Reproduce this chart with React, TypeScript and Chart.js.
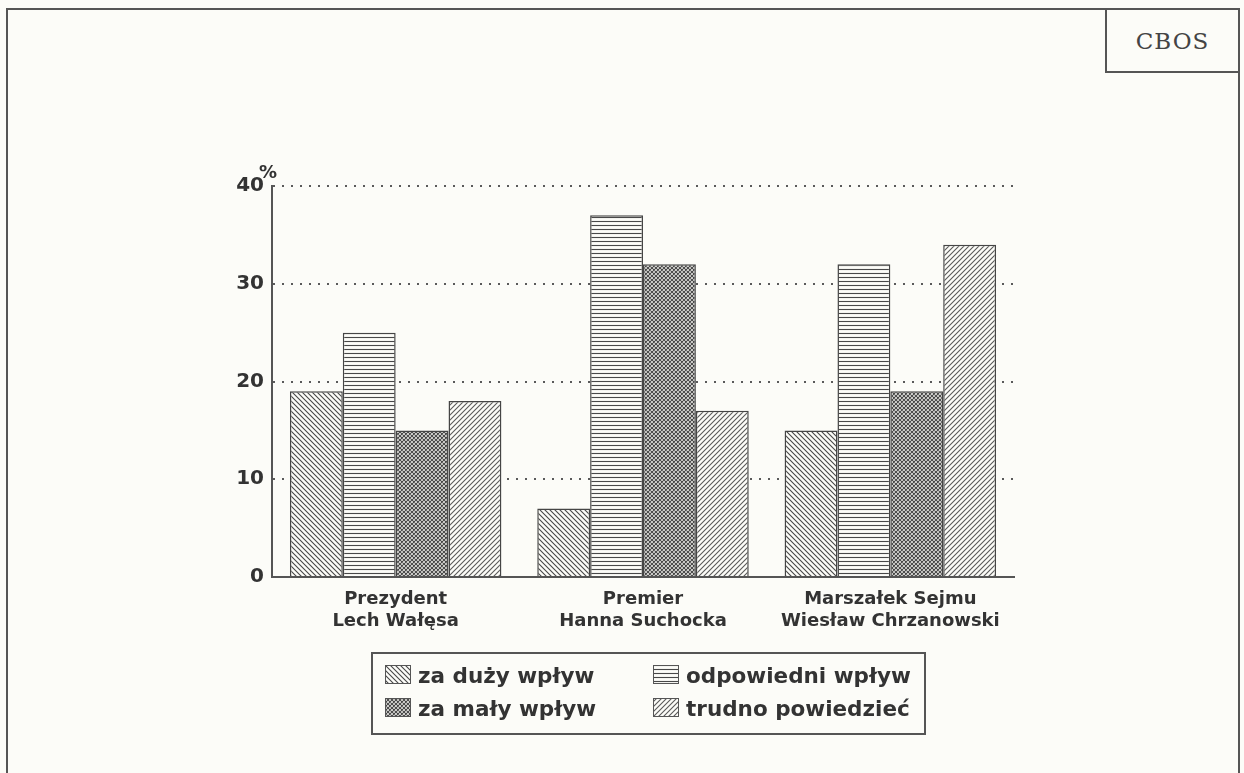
import React, { useEffect, useRef } from "react";
import { Chart, registerables } from "chart.js";

Chart.register(...registerables);

// ---- data ----
const categories: string[][] = [
  ["Prezydent", "Lech Wałęsa"],
  ["Premier", "Hanna Suchocka"],
  ["Marszałek Sejmu", "Wiesław Chrzanowski"],
];
const seriesNames = ["za duży wpływ", "odpowiedni wpływ", "za mały wpływ", "trudno powiedzieć"];
const zaDuzyWplyw = [19, 7, 15];
const odpowiedniWplyw = [25, 37, 32];
const zaMalyWplyw = [15, 32, 19];
const trudnoPowiedziec = [18, 17, 34];
const yTickValues = [0, 10, 20, 30, 40];
const unitLabel = "%";
const sourceLabel = "CBOS";

const BG = "#fcfcf8";
const INK = "#454545";
const TEXT = "#333";

function makePattern(kind: string): CanvasPattern {
  const s = kind === "horiz" ? 4 : kind === "cross" ? 4 : 5;
  const c = document.createElement("canvas");
  c.width = s;
  c.height = s;
  const g = c.getContext("2d")!;
  g.fillStyle = BG;
  g.fillRect(0, 0, s, s);
  g.strokeStyle = kind === "fwd" ? "#5a5a5a" : "#484848";
  g.lineWidth = kind === "cross" ? 1.2 : 1.1;
  g.beginPath();
  if (kind === "back" || kind === "cross") {
    g.moveTo(-1, -1); g.lineTo(s + 1, s + 1);
    g.moveTo(-1, s - 1); g.lineTo(1, s + 1);
    g.moveTo(s - 1, -1); g.lineTo(s + 1, 1);
  }
  if (kind === "fwd" || kind === "cross") {
    g.moveTo(-1, s + 1); g.lineTo(s + 1, -1);
    g.moveTo(-1, 1); g.lineTo(1, -1);
    g.moveTo(s - 1, s + 1); g.lineTo(s + 1, s - 1);
  }
  if (kind === "horiz") {
    g.moveTo(0, 1.5); g.lineTo(s, 1.5);
  }
  g.stroke();
  return g.createPattern(c, "repeat")!;
}

const boxLegendPlugin = {
  id: "boxLegend",
  afterDraw(chart: any, _args: any, o: any) {
    const ctx = chart.ctx as CanvasRenderingContext2D;
    ctx.save();
    ctx.lineWidth = 2;
    ctx.strokeStyle = "#555";
    ctx.strokeRect(o.box[0], o.box[1], o.box[2], o.box[3]);
    ctx.font = `bold ${o.fontSize}px "DejaVu Sans"`;
    ctx.textAlign = "left";
    ctx.textBaseline = "alphabetic";
    chart.data.datasets.forEach((ds: any, i: number) => {
      const col = i % 2;
      const row = Math.floor(i / 2);
      const x = o.colX[col];
      const y = o.rowY[row];
      ctx.fillStyle = ds.backgroundColor;
      ctx.fillRect(x, y, o.swatch[0], o.swatch[1]);
      ctx.lineWidth = 1;
      ctx.strokeStyle = "#555";
      ctx.strokeRect(x + 0.5, y + 0.5, o.swatch[0] - 1, o.swatch[1] - 1);
      ctx.fillStyle = TEXT;
      ctx.fillText(ds.label, x + o.swatch[0] + o.gap, y + o.swatch[1] - 1);
    });
    ctx.restore();
  },
};

const unitPlugin = {
  id: "unitLabel",
  afterDraw(chart: any, _args: any, o: any) {
    const ctx = chart.ctx as CanvasRenderingContext2D;
    const a = chart.chartArea;
    ctx.save();
    ctx.font = 'bold 18px "DejaVu Sans"';
    ctx.fillStyle = TEXT;
    ctx.textAlign = "center";
    ctx.textBaseline = "middle";
    ctx.fillText(o.text, a.left + o.dx, a.top + o.dy);
    ctx.restore();
  },
};

export default function App() {
  const ref = useRef<HTMLCanvasElement>(null);

  useEffect(() => {
    const fills = [makePattern("back"), makePattern("horiz"), makePattern("cross"), makePattern("fwd")];
    const seriesData = [zaDuzyWplyw, odpowiedniWplyw, zaMalyWplyw, trudnoPowiedziec];
    const chart = new Chart(ref.current!, {
      type: "bar",
      data: {
        labels: categories as any,
        datasets: seriesData.map((d, i) => ({
          label: seriesNames[i],
          data: d,
          backgroundColor: fills[i] as any,
          borderColor: INK,
          borderWidth: 1.5,
          categoryPercentage: 0.855,
          barPercentage: 1,
        })),
      },
      options: {
        responsive: true,
        maintainAspectRatio: false,
        animation: false,
        events: [],
        layout: { padding: { left: 0, top: 186, right: 230, bottom: 0 } },
        plugins: {
          legend: { display: false },
          tooltip: { enabled: false },
          boxLegend: {
            box: [372, 653, 553, 81],
            colX: [385, 653],
            rowY: [665, 698],
            swatch: [26, 19],
            gap: 7,
            fontSize: 21.5,
          },
          unitLabel: { text: unitLabel, dx: -4, dy: -13 },
        } as any,
        scales: {
          x: {
            grid: { display: false, drawTicks: false },
            border: { display: true, color: "#555", width: 2, z: 1 },
            ticks: {
              color: TEXT,
              font: { family: '"DejaVu Sans"', size: 18, weight: "bold", lineHeight: 1.22 },
              padding: 11,
              maxRotation: 0,
              autoSkip: false,
            },
            afterFit: (s: any) => {
              s.height = 196;
            },
          },
          y: {
            min: 0,
            max: 40,
            afterBuildTicks: (s: any) => {
              s.ticks = yTickValues.map((v) => ({ value: v }));
            },
            grid: {
              drawTicks: false,
              lineWidth: 2,
              color: (c: any) => (c.tick && c.tick.value === 0 ? "rgba(0,0,0,0)" : "#5a5a5a"),
            },
            border: { display: true, color: "#555", width: 2, dash: [2, 7] },
            ticks: {
              color: TEXT,
              font: { family: '"DejaVu Sans"', size: 20, weight: "bold" },
              padding: 8,
            },
            afterFit: (s: any) => {
              s.width = 272;
            },
          },
        },
      },
      plugins: [boxLegendPlugin, unitPlugin],
    });
    return () => chart.destroy();
  }, []);

  return (
    <div
      style={{
        position: "absolute",
        left: 0,
        top: 0,
        width: 1244,
        height: 773,
        background: BG,
        overflow: "hidden",
      }}
    >
      <div
        style={{
          position: "absolute",
          left: 6,
          top: 8,
          width: 1230,
          height: 820,
          borderLeft: "2px solid #555",
          borderTop: "2px solid #555",
          borderRight: "2px solid #555",
        }}
      />
      <div
        style={{
          position: "absolute",
          left: 1105,
          top: 10,
          width: 131,
          height: 61,
          borderLeft: "2px solid #555",
          borderBottom: "2px solid #555",
          display: "flex",
          alignItems: "center",
          justifyContent: "center",
          fontFamily: '"DejaVu Serif", serif',
          fontSize: 23,
          letterSpacing: 1,
          color: "#444",
        }}
      >
        {sourceLabel}
      </div>
      <div style={{ position: "absolute", left: 0, top: 0, width: 1244, height: 773 }}>
        <canvas ref={ref} />
      </div>
    </div>
  );
}
